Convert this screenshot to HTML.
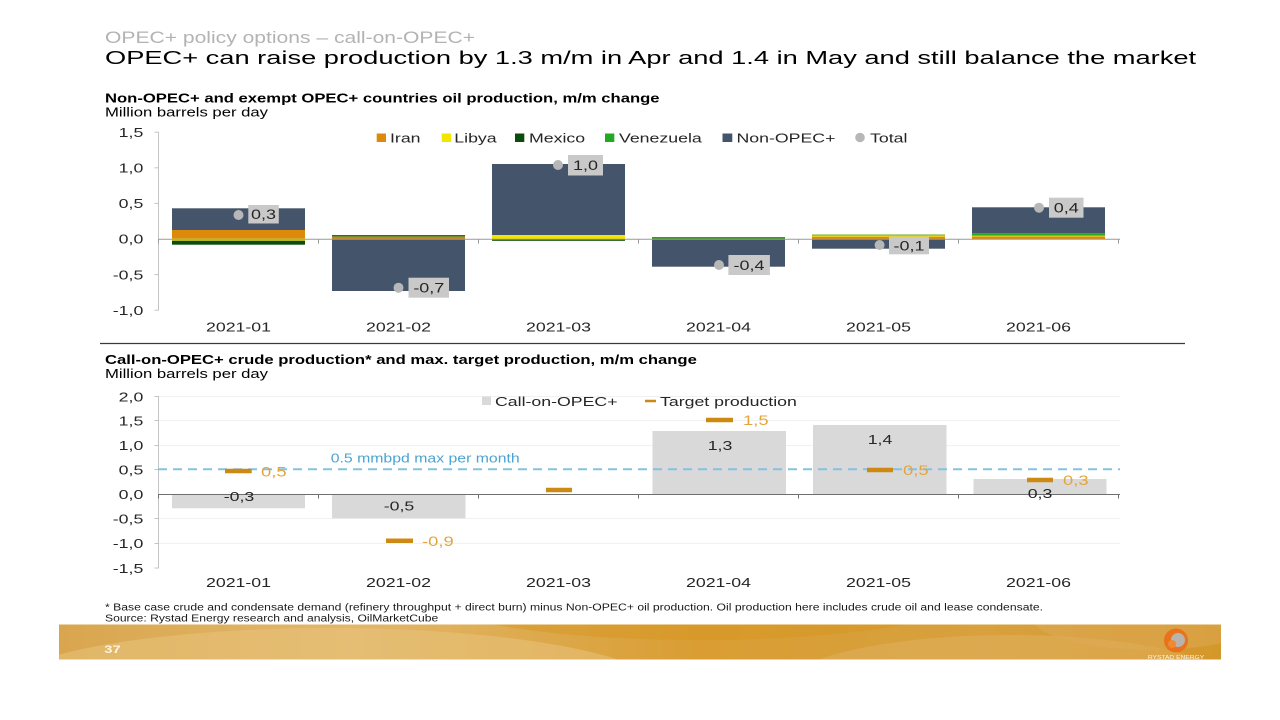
<!DOCTYPE html>
<html><head><meta charset="utf-8"><style>
html,body{margin:0;padding:0;background:#fff;}
svg{display:block;}
text{font-family:"Liberation Sans",Arial,sans-serif;}
</style></head><body>
<svg width="1280" height="720" viewBox="0 0 1280 720" xmlns="http://www.w3.org/2000/svg">
<defs>
<linearGradient id="band" x1="0" y1="0" x2="1" y2="0">
<stop offset="0" stop-color="#d9a64e"/>
<stop offset="0.25" stop-color="#e2b76a"/>
<stop offset="0.55" stop-color="#d99d33"/>
<stop offset="0.8" stop-color="#d8a13e"/>
<stop offset="1" stop-color="#d4972a"/>
</linearGradient>
<clipPath id="bc"><rect x="59" y="624.5" width="1162" height="35"/></clipPath>
</defs>
<rect width="1280" height="720" fill="#fff"/>

<!-- Header -->
<text transform="translate(105 43) scale(1.333 1)" font-size="16.3" fill="#b3b3b3" textLength="277.6" lengthAdjust="spacingAndGlyphs">OPEC+ policy options – call-on-OPEC+</text>
<text transform="translate(105 64) scale(1.333 1)" font-size="18.7" fill="#000" textLength="818.5" lengthAdjust="spacingAndGlyphs">OPEC+ can raise production by 1.3 m/m in Apr and 1.4 in May and still balance the market</text>

<!-- Top chart titles -->
<text transform="translate(105 102.5) scale(1.333 1)" font-size="13" font-weight="bold" fill="#000" textLength="416" lengthAdjust="spacingAndGlyphs">Non-OPEC+ and exempt OPEC+ countries oil production, m/m change</text>
<text transform="translate(105 116.5) scale(1.333 1)" font-size="13" fill="#000" textLength="122.3" lengthAdjust="spacingAndGlyphs">Million barrels per day</text>

<!-- Top chart axes -->
<line x1="158.5" y1="132" x2="158.5" y2="310.5" stroke="#c4c4c4" stroke-width="1"/>
<g stroke="#c4c4c4" stroke-width="1">
<line x1="154.5" y1="132.2" x2="158.5" y2="132.2"/>
<line x1="154.5" y1="167.8" x2="158.5" y2="167.8"/>
<line x1="154.5" y1="203.4" x2="158.5" y2="203.4"/>
<line x1="154.5" y1="274.6" x2="158.5" y2="274.6"/>
<line x1="154.5" y1="310.2" x2="158.5" y2="310.2"/>
</g>
<g font-size="13.3" fill="#262626" text-anchor="end">
<text transform="translate(143.3 137) scale(1.333 1)">1,5</text>
<text transform="translate(143.3 172.5) scale(1.333 1)">1,0</text>
<text transform="translate(143.3 208) scale(1.333 1)">0,5</text>
<text transform="translate(143.3 243.7) scale(1.333 1)">0,0</text>
<text transform="translate(143.3 279.3) scale(1.333 1)">-0,5</text>
<text transform="translate(143.3 314.9) scale(1.333 1)">-1,0</text>
</g>

<!-- Top legend -->
<rect x="376.7" y="133.5" width="9.3" height="8.5" fill="#dd8a0c"/>
<rect x="441.7" y="133.5" width="9.3" height="8.5" fill="#f2e600"/>
<rect x="515" y="133.5" width="9.3" height="8.5" fill="#0d4a0d"/>
<rect x="605" y="133.5" width="9.3" height="8.5" fill="#22a822"/>
<rect x="722.5" y="133.5" width="9.8" height="8.5" fill="#44546a"/>
<circle cx="860" cy="137.5" r="4.8" fill="#b7b7b7"/>
<g font-size="13.3" fill="#262626">
<text transform="translate(390 142.5) scale(1.333 1)">Iran</text>
<text transform="translate(454.3 142.5) scale(1.333 1)">Libya</text>
<text transform="translate(529 142.5) scale(1.333 1)">Mexico</text>
<text transform="translate(619 142.5) scale(1.333 1)">Venezuela</text>
<text transform="translate(736.5 142.5) scale(1.333 1)">Non-OPEC+</text>
<text transform="translate(870 142.5) scale(1.333 1)">Total</text>
</g>

<!-- Top bars -->
<!-- 2021-01 -->
<rect x="172" y="208.3" width="133" height="21.7" fill="#44546a"/>
<rect x="172" y="230" width="133" height="8.5" fill="#dd8a0c"/>
<rect x="172" y="238.5" width="133" height="2.2" fill="#f2e600"/>
<rect x="172" y="240.7" width="133" height="4" fill="#0d4a0d"/>
<!-- 2021-02 -->
<rect x="332" y="235" width="133" height="1.6" fill="#1f7a1f"/>
<rect x="332" y="236.6" width="133" height="2.4" fill="#c98418"/>
<rect x="332" y="239" width="133" height="52" fill="#44546a"/>
<!-- 2021-03 -->
<rect x="492" y="164" width="133" height="71" fill="#44546a"/>
<rect x="492" y="235" width="133" height="4" fill="#f2e600"/>
<rect x="492" y="239" width="133" height="1.8" fill="#0d4a0d"/>
<!-- 2021-04 -->
<rect x="652" y="237" width="133" height="2" fill="#3a9a1a"/>
<rect x="652" y="239" width="133" height="27.7" fill="#44546a"/>
<!-- 2021-05 -->
<rect x="812" y="234.5" width="133" height="1.2" fill="#6aae1a"/>
<rect x="812" y="235.7" width="133" height="1" fill="#f2e600"/>
<rect x="812" y="236.7" width="133" height="2.3" fill="#dd8a0c"/>
<rect x="812" y="239" width="133" height="9.7" fill="#44546a"/>
<!-- 2021-06 -->
<rect x="972" y="207.3" width="133" height="26" fill="#44546a"/>
<rect x="972" y="233.3" width="133" height="2.4" fill="#22a822"/>
<rect x="972" y="235.7" width="133" height="1" fill="#e6c700"/>
<rect x="972" y="236.7" width="133" height="2.3" fill="#dd8a0c"/>

<!-- Top x-axis -->
<line x1="158" y1="239.2" x2="1120" y2="239.2" stroke="#9a9a9a" stroke-width="1"/>
<g stroke="#9a9a9a" stroke-width="1">
<line x1="158.5" y1="239" x2="158.5" y2="243.5"/>
<line x1="318.5" y1="239" x2="318.5" y2="243.5"/>
<line x1="478.5" y1="239" x2="478.5" y2="243.5"/>
<line x1="638.5" y1="239" x2="638.5" y2="243.5"/>
<line x1="798.5" y1="239" x2="798.5" y2="243.5"/>
<line x1="958.5" y1="239" x2="958.5" y2="243.5"/>
<line x1="1118.5" y1="239" x2="1118.5" y2="243.5"/>
</g>

<!-- Total dots + labels -->
<g fill="#b7b7b7">
<circle cx="238.5" cy="215" r="5"/>
<circle cx="398.5" cy="287.7" r="5"/>
<circle cx="558" cy="165" r="5"/>
<circle cx="719" cy="265" r="5"/>
<circle cx="879.6" cy="245" r="5"/>
<circle cx="1039" cy="207.7" r="5"/>
</g>
<g fill="#c9c9c9">
<rect x="248.3" y="205" width="30.5" height="18.5"/>
<rect x="408.5" y="277.7" width="40.5" height="20"/>
<rect x="568" y="155" width="35" height="20.5"/>
<rect x="728.4" y="255" width="41.5" height="20"/>
<rect x="889" y="236.7" width="40" height="17.6"/>
<rect x="1049" y="197.7" width="34.5" height="20"/>
</g>
<g font-size="13.5" fill="#262626" text-anchor="middle">
<text transform="translate(263.5 219) scale(1.333 1)">0,3</text>
<text transform="translate(428.8 292.7) scale(1.333 1)">-0,7</text>
<text transform="translate(585.5 170.2) scale(1.333 1)">1,0</text>
<text transform="translate(749 270) scale(1.333 1)">-0,4</text>
<text transform="translate(909 250.5) scale(1.333 1)">-0,1</text>
<text transform="translate(1066.3 212.7) scale(1.333 1)">0,4</text>
</g>

<!-- Top x labels -->
<g font-size="13.3" fill="#262626" text-anchor="middle">
<text transform="translate(238.5 331.5) scale(1.333 1)">2021-01</text>
<text transform="translate(398.5 331.5) scale(1.333 1)">2021-02</text>
<text transform="translate(558.5 331.5) scale(1.333 1)">2021-03</text>
<text transform="translate(718.5 331.5) scale(1.333 1)">2021-04</text>
<text transform="translate(878.5 331.5) scale(1.333 1)">2021-05</text>
<text transform="translate(1038.5 331.5) scale(1.333 1)">2021-06</text>
</g>

<!-- Separator -->
<line x1="100" y1="343.5" x2="1185" y2="343.5" stroke="#3a3a3a" stroke-width="1.3"/>

<!-- Bottom chart titles -->
<text transform="translate(105 364) scale(1.333 1)" font-size="13" font-weight="bold" fill="#000" textLength="444" lengthAdjust="spacingAndGlyphs">Call-on-OPEC+ crude production* and max. target production, m/m change</text>
<text transform="translate(105 378) scale(1.333 1)" font-size="13" fill="#000" textLength="122.3" lengthAdjust="spacingAndGlyphs">Million barrels per day</text>

<!-- Bottom gridlines -->
<g stroke="#f1f1f1" stroke-width="1">
<line x1="159" y1="396.5" x2="1120" y2="396.5"/>
<line x1="159" y1="420.5" x2="1120" y2="420.5"/>
<line x1="159" y1="445.5" x2="1120" y2="445.5"/>
<line x1="159" y1="518.5" x2="1120" y2="518.5"/>
<line x1="159" y1="543.5" x2="1120" y2="543.5"/>
</g>
<line x1="158.5" y1="396" x2="158.5" y2="568.5" stroke="#c4c4c4" stroke-width="1"/>
<g stroke="#c4c4c4" stroke-width="1">
<line x1="154.5" y1="396.5" x2="158.5" y2="396.5"/>
<line x1="154.5" y1="420.5" x2="158.5" y2="420.5"/>
<line x1="154.5" y1="445.5" x2="158.5" y2="445.5"/>
<line x1="154.5" y1="469.5" x2="158.5" y2="469.5"/>
<line x1="154.5" y1="518.5" x2="158.5" y2="518.5"/>
<line x1="154.5" y1="543.5" x2="158.5" y2="543.5"/>
<line x1="154.5" y1="568" x2="158.5" y2="568"/>
</g>
<g font-size="13.3" fill="#262626" text-anchor="end">
<text transform="translate(143.3 401.3) scale(1.333 1)">2,0</text>
<text transform="translate(143.3 425.5) scale(1.333 1)">1,5</text>
<text transform="translate(143.3 450) scale(1.333 1)">1,0</text>
<text transform="translate(143.3 474.5) scale(1.333 1)">0,5</text>
<text transform="translate(143.3 499) scale(1.333 1)">0,0</text>
<text transform="translate(143.3 523.5) scale(1.333 1)">-0,5</text>
<text transform="translate(143.3 548) scale(1.333 1)">-1,0</text>
<text transform="translate(143.3 572.8) scale(1.333 1)">-1,5</text>
</g>

<!-- Bottom legend -->
<rect x="482" y="396.5" width="9" height="8.5" fill="#d9d9d9"/>
<text transform="translate(495 406) scale(1.333 1)" font-size="13.3" fill="#262626">Call-on-OPEC+</text>
<line x1="645" y1="401" x2="656" y2="401" stroke="#cc8a14" stroke-width="2.5"/>
<text transform="translate(660 406) scale(1.333 1)" font-size="13.3" fill="#262626">Target production</text>

<!-- Bottom bars -->
<g fill="#d9d9d9">
<rect x="172" y="494.5" width="133" height="13.8"/>
<rect x="332" y="494.5" width="133.5" height="23.8"/>
<rect x="652.5" y="431" width="133.5" height="63.5"/>
<rect x="813" y="425" width="133.5" height="69.5"/>
<rect x="973.5" y="479" width="133" height="15.5"/>
</g>

<!-- Dashed max line -->
<line x1="158" y1="469.3" x2="1120" y2="469.3" stroke="#82c3e4" stroke-width="2" stroke-dasharray="9 6"/>
<text transform="translate(330.7 462.3) scale(1.333 1)" font-size="12.5" fill="#4aa3d2" textLength="141.8" lengthAdjust="spacingAndGlyphs">0.5 mmbpd max per month</text>

<!-- Bottom x-axis -->
<line x1="158" y1="494.5" x2="1120" y2="494.5" stroke="#6f6f6f" stroke-width="1"/>
<g stroke="#6f6f6f" stroke-width="1">
<line x1="158.5" y1="494.5" x2="158.5" y2="498.5"/>
<line x1="318.5" y1="494.5" x2="318.5" y2="498.5"/>
<line x1="478.5" y1="494.5" x2="478.5" y2="498.5"/>
<line x1="638.5" y1="494.5" x2="638.5" y2="498.5"/>
<line x1="798.5" y1="494.5" x2="798.5" y2="498.5"/>
<line x1="958.5" y1="494.5" x2="958.5" y2="498.5"/>
<line x1="1118.5" y1="494.5" x2="1118.5" y2="498.5"/>
</g>

<!-- Bar labels -->
<g font-size="13.3" fill="#262626" text-anchor="middle">
<text transform="translate(239 500.8) scale(1.333 1)">-0,3</text>
<text transform="translate(399 510.5) scale(1.333 1)">-0,5</text>
<text transform="translate(720 449.8) scale(1.333 1)">1,3</text>
<text transform="translate(880 443.8) scale(1.333 1)">1,4</text>
<text transform="translate(1040 497.8) scale(1.333 1)">0,3</text>
</g>

<!-- Target markers -->
<g stroke="#cc8a14" stroke-width="4.5">
<line x1="225" y1="471" x2="251.7" y2="471"/>
<line x1="386" y1="540.7" x2="413" y2="540.7"/>
<line x1="546" y1="490" x2="572" y2="490"/>
<line x1="706" y1="420" x2="733" y2="420"/>
<line x1="867" y1="470" x2="893" y2="470"/>
<line x1="1027" y1="480" x2="1053" y2="480"/>
</g>
<g font-size="13.8" fill="#e3a43c">
<text transform="translate(261 476.3) scale(1.333 1)">0,5</text>
<text transform="translate(422 545.8) scale(1.333 1)">-0,9</text>
<text transform="translate(743 425) scale(1.333 1)">1,5</text>
<text transform="translate(903 475) scale(1.333 1)">0,5</text>
<text transform="translate(1063 485) scale(1.333 1)">0,3</text>
</g>

<!-- Bottom x labels -->
<g font-size="13.3" fill="#262626" text-anchor="middle">
<text transform="translate(238.5 587) scale(1.333 1)">2021-01</text>
<text transform="translate(398.5 587) scale(1.333 1)">2021-02</text>
<text transform="translate(558.5 587) scale(1.333 1)">2021-03</text>
<text transform="translate(718.5 587) scale(1.333 1)">2021-04</text>
<text transform="translate(878.5 587) scale(1.333 1)">2021-05</text>
<text transform="translate(1038.5 587) scale(1.333 1)">2021-06</text>
</g>

<!-- Footnotes -->
<text transform="translate(105 610.5) scale(1.333 1)" font-size="10.3" fill="#1a1a1a" textLength="703.7" lengthAdjust="spacingAndGlyphs">* Base case crude and condensate demand (refinery throughput + direct burn) minus Non-OPEC+ oil production. Oil production here includes crude oil and lease condensate.</text>
<text transform="translate(105 621.5) scale(1.333 1)" font-size="10.3" fill="#1a1a1a" textLength="250" lengthAdjust="spacingAndGlyphs">Source: Rystad Energy research and analysis, OilMarketCube</text>

<!-- Footer band -->
<rect x="59" y="624.5" width="1162" height="35" fill="url(#band)"/>
<g clip-path="url(#bc)">
<ellipse cx="330" cy="690" rx="330" ry="62" fill="#e8c27c" opacity="0.55"/>
<ellipse cx="700" cy="600" rx="260" ry="40" fill="#d5951f" opacity="0.45"/>
<ellipse cx="1010" cy="690" rx="230" ry="55" fill="#e2b466" opacity="0.45"/>
<ellipse cx="1150" cy="615" rx="120" ry="35" fill="#ddaa58" opacity="0.5"/>
</g>
<text transform="translate(104.3 653) scale(1.333 1)" font-size="11" font-weight="bold" fill="#fff4dc">37</text>
<circle cx="1176" cy="640.5" r="12" fill="#e8731c"/>
<circle cx="1178" cy="640" r="7" fill="#b9b3ad"/>
<circle cx="1172" cy="644" r="4" fill="#f08a30"/>
<text transform="translate(1176 658.8) scale(1.333 1)" font-size="5" fill="#fff3e0" text-anchor="middle">RYSTAD ENERGY</text>
</svg>
</body></html>
